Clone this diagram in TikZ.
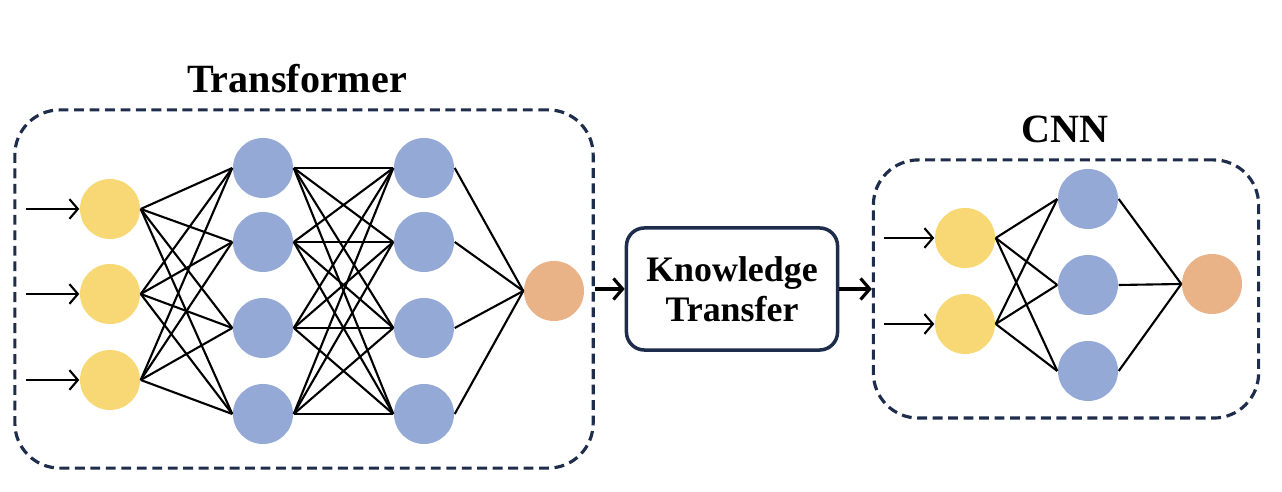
\documentclass[tikz,border=0pt]{standalone}
\usepackage{fontspec}
\setmainfont{Liberation Serif}
\usetikzlibrary{arrows.meta}
\usetikzlibrary{positioning}
\definecolor{inyellow}{RGB}{247,216,116}
\definecolor{hidblue}{RGB}{149,169,214}
\definecolor{outorange}{RGB}{233,178,135}
\definecolor{framenavy}{RGB}{31,45,77}
\tikzset{neuron/.style = {circle, inner sep=0pt, minimum size=0.6cm}}
\tikzset{netframe/.style = {draw=framenavy, line width=0.9pt,
                            dash pattern=on 2.8pt off 1.6pt,
                            rounded corners=0.45cm, inner sep=0pt}}
\tikzset{link/.style = {line width=0.6pt}}
\tikzset{feed/.style = {line width=0.6pt,
                        -{Straight Barb[length=2.4pt,width=5.6pt]}}}
\tikzset{pass/.style = {line width=0.9pt,
                        -{Straight Barb[length=2.6pt,width=6pt]}}}
\tikzset{title/.style = {font=\fontsize{11.4}{13}\selectfont\bfseries}}

\begin{document}
\begin{tikzpicture}[x=0.01cm, y=-0.01cm]
    \useasboundingbox (0,0) rectangle (1282,492);

    % Transformer
    \node [netframe, minimum width=5.78cm, minimum height=3.58cm] (tbox) at (304,289) {};
    \node [title] (ttitle) at (297,79) {Transformer};

    \foreach \n/\y in {1/209, 2/294, 3/380} {
      \node [neuron, fill=inyellow] (i\n) at (110,\y) {};
      \coordinate [left=0.53cm of i\n.west] (s\n);
      \draw [feed] (s\n) -- (i\n.west);
    }
    \foreach \n/\y in {1/168, 2/242, 3/328, 4/414} {
      \node [neuron, fill=hidblue] (a\n) at (263,\y) {};
      \node [neuron, fill=hidblue] (b\n) at (424,\y) {};
    }
    \node [neuron, fill=outorange] (o) at (554,291) {};

    \foreach \i in {1,2,3}{
      \foreach \j in {1,...,4}{
        \draw [link] (i\i.east) -- (a\j.west);
      }
    }
    \foreach \i in {1,...,4}{
      \foreach \j in {1,...,4}{
        \draw [link] (a\i.east) -- (b\j.west);
      }
      \draw [link] (b\i.east) -- (o.west);
    }

    % transfer
    \node [draw=framenavy, line width=1pt, rounded corners=0.18cm, fill=white,
           minimum width=2.11cm, minimum height=1.22cm, align=center,
           font=\fontsize{10.2}{11.4}\selectfont\bfseries] (kt) at (732,289) {Knowledge\\Transfer};
    \draw [pass] (tbox.east) -- (kt.west);

    % CNN
    \node [netframe, minimum width=3.85cm, minimum height=2.58cm] (cbox) at (1066,289) {};
    \node [title] (ctitle) at (1065,129) {CNN};
    \draw [pass] (kt.east) -- (cbox.west);

    \foreach \n/\y in {1/238, 2/324} {
      \node [neuron, fill=inyellow] (c\n) at (965,\y) {};
      \coordinate [left=0.5cm of c\n.west] (r\n);
      \draw [feed] (r\n) -- (c\n.west);
    }
    \foreach \n/\y in {1/199, 2/285, 3/371} {
      \node [neuron, fill=hidblue] (d\n) at (1088,\y) {};
    }
    \node [neuron, fill=outorange] (p) at (1212,284) {};

    \foreach \i in {1,2}{
      \foreach \j in {1,2,3}{
        \draw [link] (c\i.east) -- (d\j.west);
      }
    }
    \foreach \j in {1,2,3}{
      \draw [link] (d\j.east) -- (p.west);
    }
  \end{tikzpicture}
\end{document}
